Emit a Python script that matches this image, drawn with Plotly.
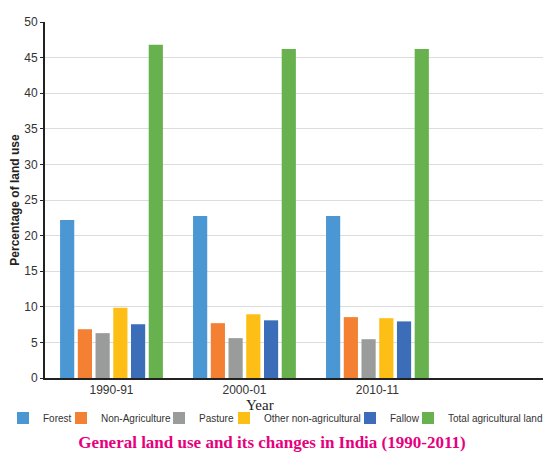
import plotly.graph_objects as go

# ---- data ----
years = ["1990-91", "2000-01", "2010-11"]
series_names = ["Forest", "Non-Agriculture", "Pasture", "Other non-agricultural",
                "Fallow", "Total agricultural land"]
forest = [22.2, 22.75, 22.75]
non_agriculture = [6.85, 7.7, 8.55]
pasture = [6.3, 5.6, 5.45]
other_non_agri = [9.85, 8.95, 8.4]
fallow = [7.55, 8.1, 7.95]
total_agri = [46.8, 46.2, 46.2]
y_ticks = [0, 5, 10, 15, 20, 25, 30, 35, 40, 45, 50]

series_values = [forest, non_agriculture, pasture, other_non_agri, fallow, total_agri]
colors = ["#4b97d3", "#f38033", "#9a9c9c", "#fdbe16", "#3b6db8", "#67b14f"]

# ---- layout geometry (pixels) ----
W, H = 554, 454
L, R, T, B = 45, 11, 22, 76
pw, ph = W - L - R, H - T - B

def px_to_paper_x(px):
    return (px - L) / pw

def py_to_paper_y(py):
    return (H - B - py) / ph

legend_symbol_px = [17, 75, 173, 238, 364, 422]  # left edge of each legend swatch
legend_row_py = 418

fig = go.Figure()
for i, (name, vals, col) in enumerate(zip(series_names, series_values, colors)):
    lg = "legend" if i == 0 else f"legend{i + 1}"
    fig.add_trace(go.Bar(x=years, y=vals, name=name, marker_color=col,
                         marker_line_width=0, legend=lg))

legend_common = dict(orientation="h", xanchor="left", yanchor="middle",
                     bgcolor="rgba(0,0,0,0)", borderwidth=0,
                     font=dict(family="Liberation Sans, Arial", size=10, color="#333"))
layout_legends = {}
for i, spx in enumerate(legend_symbol_px):
    key = "legend" if i == 0 else f"legend{i + 1}"
    layout_legends[key] = dict(x=px_to_paper_x(spx - 14), y=py_to_paper_y(legend_row_py),
                               **legend_common)

fig.update_layout(
    width=W, height=H,
    margin=dict(l=L, r=R, t=T, b=B, autoexpand=False),
    paper_bgcolor="white", plot_bgcolor="white",
    barmode="group", bargap=0.2, bargroupgap=0.2,
    showlegend=True,
    font=dict(family="Liberation Sans, Arial", color="#333"),
    title=dict(text="<b>General land use and its changes in India (1990-2011)</b>",
               x=272 / W, xanchor="center", y=1 - 442 / H, yanchor="middle",
               font=dict(family="Liberation Serif, Times New Roman", size=17, color="#e6007e")),
    xaxis=dict(type="category", range=[-0.5, 3.245], showgrid=False,
               showline=True, linecolor="#222", linewidth=2, ticks="",
               tickfont=dict(family="Liberation Sans, Arial", size=12, color="#333")),
    yaxis=dict(range=[0, 50], tickvals=y_ticks, showgrid=True, gridcolor="#dcdcdc",
               gridwidth=1, zeroline=False, showline=True, linecolor="#222", linewidth=2,
               ticks="outside", ticklen=3, tickcolor="#222",
               tickfont=dict(family="Liberation Sans, Arial", size=12, color="#333"),
               title=dict(text="<b>Percentage of land use</b>", standoff=2,
                          font=dict(family="Liberation Sans, Arial", size=12, color="#222"))),
    annotations=[dict(text="Year", xref="paper", yref="paper",
                      x=px_to_paper_x(260), y=py_to_paper_y(405),
                      xanchor="center", yanchor="middle", showarrow=False,
                      font=dict(family="Liberation Serif, Times New Roman", size=15, color="#222"))],
    **layout_legends,
)

fig.write_html("out.html")
